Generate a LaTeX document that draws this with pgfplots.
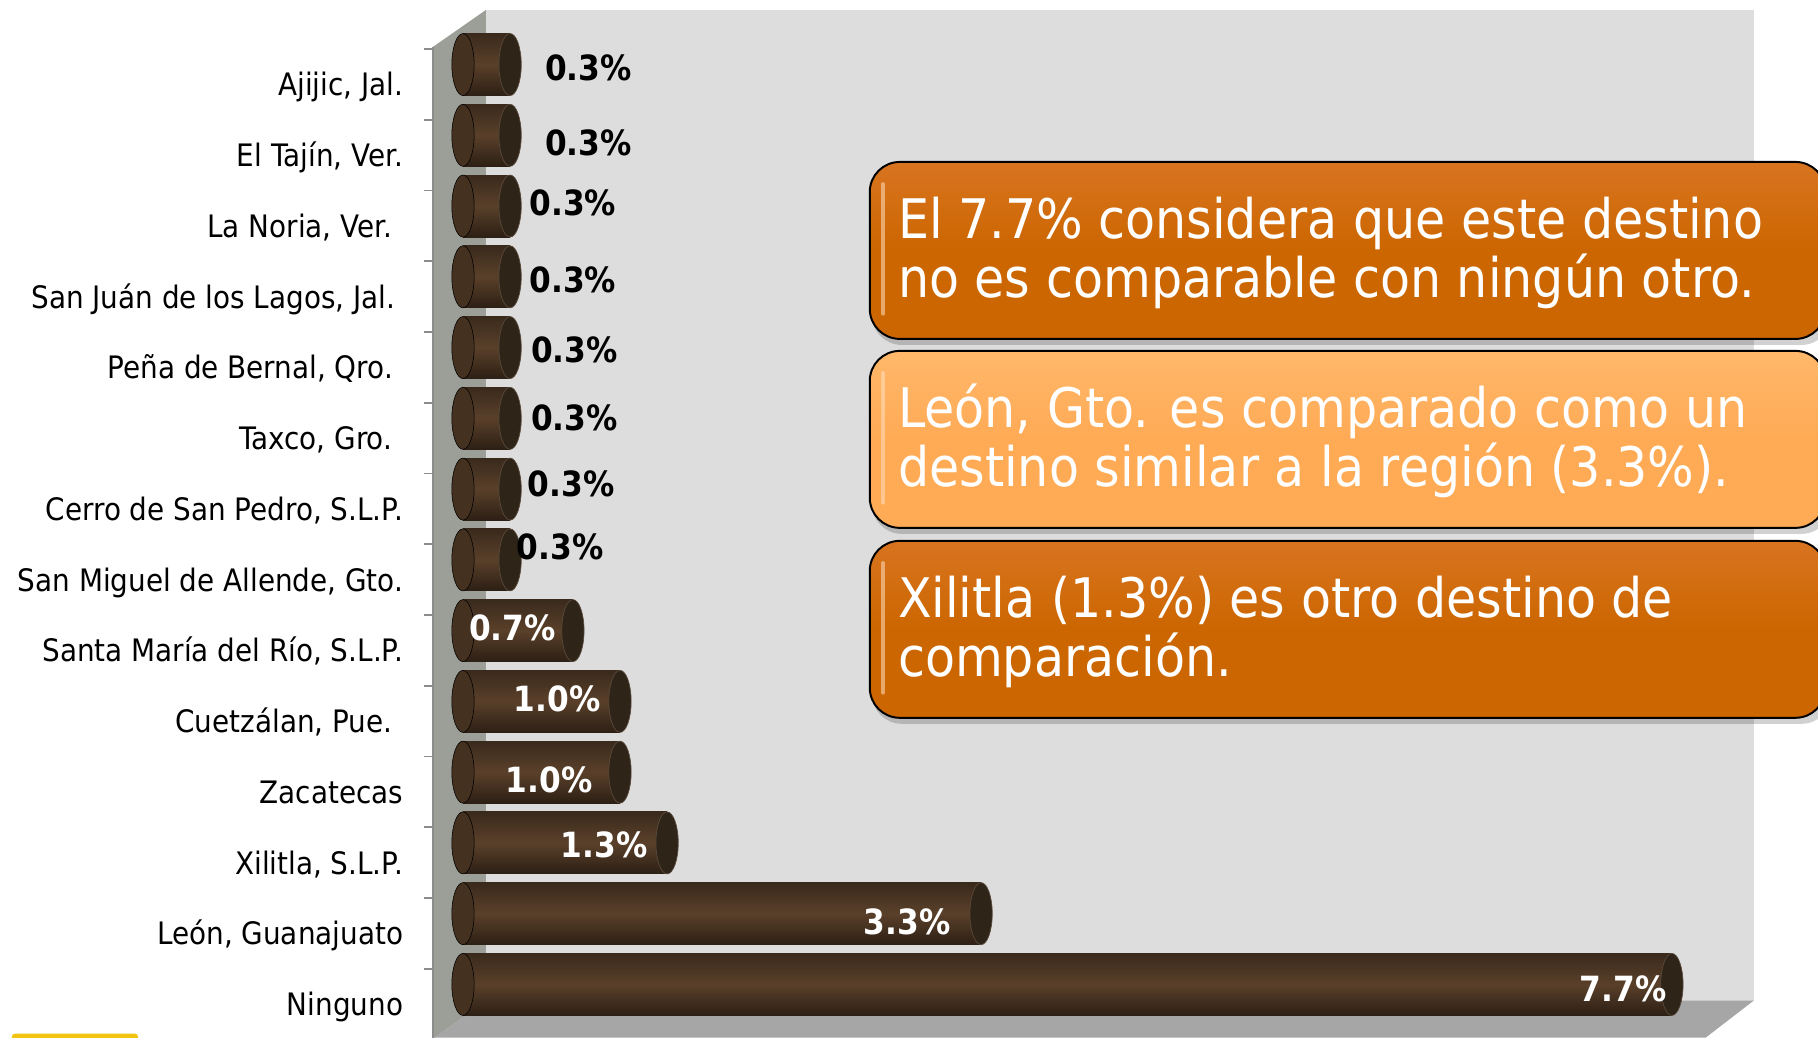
\documentclass[border=0pt]{standalone}
\usepackage{fontspec}
\setmainfont{DejaVu Sans}[FakeStretch=0.9]
\usepackage{pgfplots}
\pgfplotsset{compat=1.18}
\definecolor{backwall}{HTML}{DDDDDD}
\definecolor{sidewall}{HTML}{9C9F97}
\definecolor{floorc}{HTML}{A6A6A6}
\definecolor{axisgray}{HTML}{8C8C8C}
\definecolor{barTop}{HTML}{3A2A1C}
\definecolor{barMid}{HTML}{5A402A}
\definecolor{barBot}{HTML}{2C1F14}
\definecolor{leftcap}{HTML}{44311F}
\definecolor{capc}{HTML}{2F2418}
\definecolor{capEdge}{HTML}{5A4A3C}
\definecolor{boxdark}{HTML}{CC6600}
\definecolor{boxdarktop}{HTML}{D87420}
\definecolor{boxlight}{HTML}{FFAA55}
\definecolor{boxlighttop}{HTML}{FFB86A}
\definecolor{yellowbar}{HTML}{F2C40F}
\newcommand{\cyl}[2]{%
  \addplot[xbar, bar width=1.55cm, bar shift=0pt, draw=none,
    top color=barTop, bottom color=barBot, middle color=barMid] coordinates {(#1,#2)};%
}
\begin{document}
\begin{tikzpicture}
\useasboundingbox (0,0) rectangle (45.45cm,25.95cm);
\clip (0,0) rectangle (45.45cm,25.95cm);
\begin{scope}[x=0.025cm,y=-0.025cm,yshift=25.95cm]
  \fill[white] (0,0) rectangle (1818,1038);
  \fill[backwall] (486,10) rectangle (1754,1001);
  \fill[sidewall] (433,47) -- (486,10) -- (486,1001) -- (435,1038) -- (433,1038) -- cycle;
  \fill[floorc] (486,1001) -- (1754,1001) -- (1706,1038) -- (435,1038) -- cycle;
  \draw[axisgray, line width=1.4pt] (433,47) -- (433,1038);
  \fill[yellowbar, rounded corners=2pt] (12,1034) rectangle (138,1042);
\end{scope}
\begin{axis}[
  at={(10.825cm,0cm)}, anchor=south west,
  scale only axis, width=33.025cm, height=25.7cm,
  xmin=-0.191, xmax=8.223, ymin=-0.757, ymax=13.771,
  clip=false,
  axis line style={draw=none},
  xtick=\empty,
  ytick={0,...,13},
  yticklabels={Ninguno,{León, Guanajuato},{Xilitla, S.L.P.},Zacatecas,{Cuetzálan, Pue.\kern0.27cm},{Santa María del Río, S.L.P.},{San Miguel de Allende, Gto.},{Cerro de San Pedro, S.L.P.},{Taxco, Gro.\kern0.27cm},{Peña de Bernal, Qro.\kern0.25cm},{San Juán de los Lagos, Jal.\kern0.2cm},{La Noria, Ver.\kern0.27cm},{El Tajín, Ver.},{Ajijic, Jal.}},
  ytick pos=left,
  major tick style={draw=none},
  yticklabel style={anchor=base east, inner sep=0pt, xshift=-0.74cm, yshift=-0.78cm, font=\fontsize{22}{26}\selectfont},
  extra y ticks={0.22,1.22,2.22,3.22,4.22,5.22,6.22,7.22,8.22,9.22,10.22,11.22,12.22,13.22},
  extra y tick labels={},
  extra y tick style={tick align=outside, major tick length=0.225cm, major tick style={draw=axisgray, line width=1.2pt}},
]
% left ends of cylinders
\addplot[only marks, mark=*, mark size=22.05pt, mark options={xscale=0.36, draw=none, fill=leftcap}]
  coordinates {(0,0) (0,1) (0,2) (0,3) (0,4) (0,5) (0,6) (0,7) (0,8) (0,9) (0,10) (0,11) (0,12) (0,13)};
% cylinder bodies, one per bar so that each gets its own shading
\cyl{7.7}{0}
\cyl{3.3}{1}
\cyl{1.3}{2}
\cyl{1.0}{3}
\cyl{1.0}{4}
\cyl{0.7}{5}
\cyl{0.3}{6}
\cyl{0.3}{7}
\cyl{0.3}{8}
\cyl{0.3}{9}
\cyl{0.3}{10}
\cyl{0.3}{11}
\cyl{0.3}{12}
\cyl{0.3}{13}
% right end caps
\addplot[only marks, mark=*, mark size=22.05pt, mark options={xscale=0.36, fill=capc, draw=capEdge, line width=0.5pt}]
  coordinates {(7.7,0) (3.3,1) (1.3,2) (1.0,3) (1.0,4) (0.7,5) (0.3,6) (0.3,7) (0.3,8) (0.3,9) (0.3,10) (0.3,11) (0.3,12) (0.3,13)};
% value labels, black
\addplot[draw=none, mark=none, point meta=explicit symbolic, nodes near coords,
  every node near coord/.append style={anchor=center, inner sep=0pt, text=black, font=\bfseries\fontsize{24.7}{28}\selectfont}]
  coordinates {(0.80,12.96) [0.3\%] (0.80,11.89) [0.3\%] (0.70,11.04) [0.3\%] (0.70,9.96) [0.3\%] (0.71,8.97) [0.3\%] (0.71,8.01) [0.3\%] (0.69,7.07) [0.3\%] (0.62,6.19) [0.3\%]};
% value labels, white
\addplot[draw=none, mark=none, point meta=explicit symbolic, nodes near coords,
  every node near coord/.append style={anchor=center, inner sep=0pt, text=white, font=\bfseries\fontsize{24.7}{28}\selectfont}]
  coordinates {(0.315,5.04) [0.7\%] (0.60,4.04) [1.0\%] (0.55,2.89) [1.0\%] (0.90,1.97) [1.3\%] (2.83,0.89) [3.3\%] (7.39,-0.06) [7.7\%]};
\end{axis}
\begin{scope}[x=0.025cm,y=-0.025cm,yshift=25.95cm]
  \def\boxtext{\fontsize{38.8}{42}\selectfont}
  % shadows
  \foreach \t/\b in {162/339,351/528,541/718}{
    \fill[black, opacity=0.18, rounded corners=0.75cm] (872,\t+5) rectangle (1832,\b+6);
  }
  \draw[line width=1.4pt, rounded corners=0.75cm, top color=boxdarktop, bottom color=boxdark, middle color=boxdark] (870,162) rectangle (1826,339);
  \draw[line width=1.4pt, rounded corners=0.75cm, top color=boxlighttop, bottom color=boxlight, middle color=boxlight] (870,351) rectangle (1826,528);
  \draw[line width=1.4pt, rounded corners=0.75cm, top color=boxdarktop, bottom color=boxdark, middle color=boxdark] (870,541) rectangle (1826,718);
  \foreach \t/\b in {162/339,351/528,541/718}{
    \draw[white!75!orange, opacity=0.55, line width=2.5pt, line cap=round] (883,\t+22) -- (883,\b-25);
  }
  \node[anchor=base west, inner sep=0pt, text=white, font=\boxtext] at (898,239) {El 7.7\% considera que este destino};
  \node[anchor=base west, inner sep=0pt, text=white, font=\boxtext] at (898,298) {no es comparable con ningún otro.};
  \node[anchor=base west, inner sep=0pt, text=white, font=\boxtext] at (898,428) {León, Gto. es comparado como un};
  \node[anchor=base west, inner sep=0pt, text=white, font=\boxtext] at (898,487) {destino similar a la región (3.3\%).};
  \node[anchor=base west, inner sep=0pt, text=white, font=\boxtext] at (898,618) {Xilitla (1.3\%) es otro destino de};
  \node[anchor=base west, inner sep=0pt, text=white, font=\boxtext] at (898,677) {comparación.};
\end{scope}
\end{tikzpicture}
\end{document}
